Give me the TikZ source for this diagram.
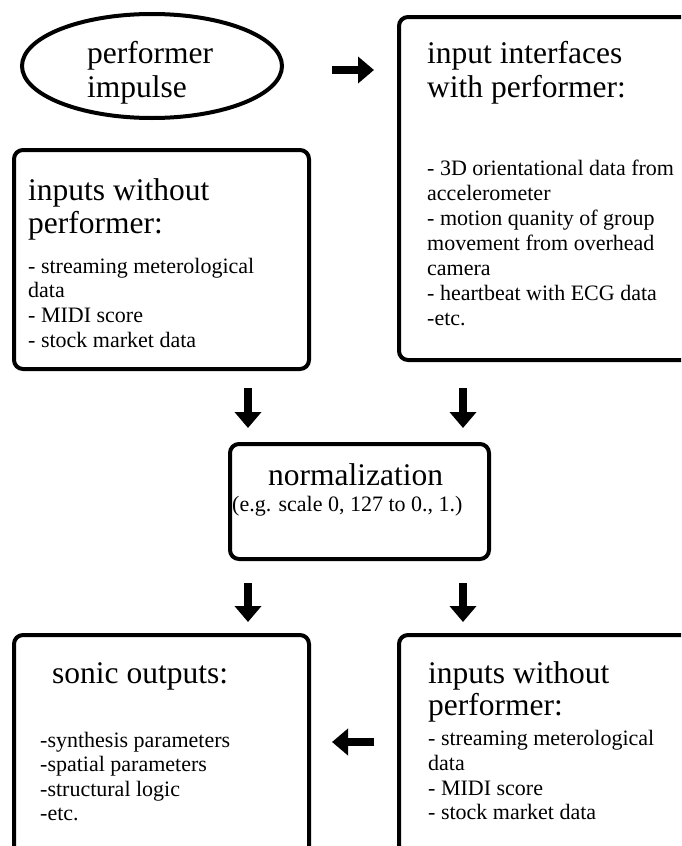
\documentclass[tikz,border=0pt]{standalone}
\usepackage{fontspec}
\setmainfont{Liberation Serif}
\usetikzlibrary{shapes.geometric,arrows.meta}
\begin{document}
\begin{tikzpicture}[x=1pt,y=-1pt,
 box/.style={draw, line width=4pt, rounded corners=9pt, inner sep=0pt, anchor=north west},
 big/.style={anchor=base west, inner sep=0pt, font=\fontsize{31.5}{34}\selectfont},
 small/.style={anchor=base west, inner sep=0pt, font=\fontsize{22}{25}\selectfont},
 blk/.style={line width=8pt, -{Triangle[width=26pt,length=16pt]}}]
\useasboundingbox (0,0) rectangle (681,846);
\clip (0,0) rectangle (681,846);

% ellipse
\node[ellipse, draw, line width=4pt, minimum width=260pt, minimum height=104pt, inner sep=0pt] (imp) at (152,66) {};
\node[big] (impA) at (87,63) {performer};
\node[big] (impB) at (87,97) {impulse};

% top right box
\node[box, minimum width=330pt, minimum height=343pt] (iface) at (397,15) {};
\node[big] (ifA) at (427,63) {input interfaces};
\node[big] (ifB) at (427,97) {with performer:};
\node[small] (if1) at (427,175) {- 3D orientational data from};
\node[small] (if2) at (427,200) {accelerometer};
\node[small] (if3) at (427,225) {- motion quanity of group};
\node[small] (if4) at (427,250) {movement from overhead};
\node[small] (if5) at (427,275) {camera};
\node[small] (if6) at (427,300) {- heartbeat with ECG data};
\node[small] (if7) at (427,325) {-etc.};

% top left box
\node[box, minimum width=295pt, minimum height=219pt] (wo1) at (12,148) {};
\node[big] (woA) at (28,200) {inputs without};
\node[big] (woB) at (28,233) {performer:};
\node[small] (wo1a) at (28,273) {- streaming meterological};
\node[small] (wo1b) at (28,297) {data};
\node[small] (wo1c) at (28,322) {- MIDI score};
\node[small] (wo1d) at (28,347) {- stock market data};

% normalization
\node[box, minimum width=259pt, minimum height=115pt] (norm) at (228,442) {};
\node[big] (nA) at (268,485) {normalization};
\node[small] (nB) at (232,511) {(e.g. scale 0, 127 to 0., 1.)};

% bottom left box
\node[box, minimum width=295pt, minimum height=260pt] (son) at (12,633) {};
\node[big] (sA) at (52,683) {sonic outputs:};
\node[small] (s1) at (40,747) {-synthesis parameters};
\node[small] (s2) at (40,771) {-spatial parameters};
\node[small] (s3) at (40,796) {-structural logic};
\node[small] (s4) at (40,820) {-etc.};

% bottom right box
\node[box, minimum width=330pt, minimum height=260pt] (wo2) at (397,633) {};
\node[big] (w2A) at (428,683) {inputs without};
\node[big] (w2B) at (428,715) {performer:};
\node[small] (w21) at (428,745) {- streaming meterological};
\node[small] (w22) at (428,770) {data};
\node[small] (w23) at (428,795) {- MIDI score};
\node[small] (w24) at (428,819) {- stock market data};

% arrow coordinates
\coordinate (r1s) at (332,70);  \coordinate (r1e) at (374,70);
\coordinate (d1s) at (248,388); \coordinate (d1e) at (248,428);
\coordinate (d2s) at (463,388); \coordinate (d2e) at (463,428);
\coordinate (d3s) at (248,583); \coordinate (d3e) at (248,622);
\coordinate (d4s) at (463,583); \coordinate (d4e) at (463,622);
\coordinate (l1s) at (374,742); \coordinate (l1e) at (332,742);

\draw[blk] (r1s) -- (r1e);
\draw[blk] (d1s) -- (d1e);
\draw[blk] (d2s) -- (d2e);
\draw[blk] (d3s) -- (d3e);
\draw[blk] (d4s) -- (d4e);
\draw[blk] (l1s) -- (l1e);
\end{tikzpicture}
\end{document}
